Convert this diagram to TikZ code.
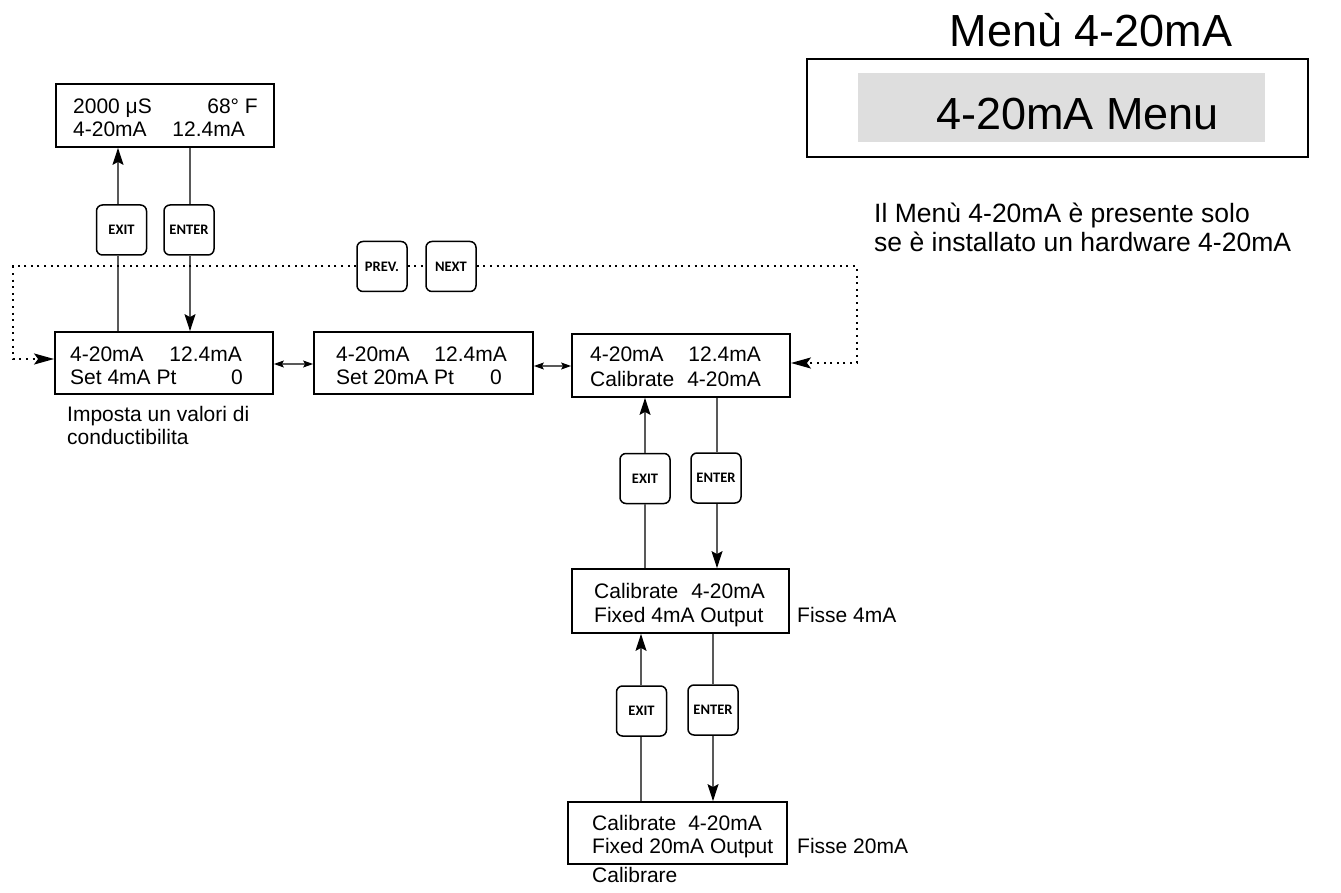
\documentclass[tikz,border=0pt]{standalone}
\usepackage{fontspec}
\setmainfont{Liberation Sans}
\newfontfamily\keyfont{Carlito}
\usetikzlibrary{arrows.meta}

\tikzset{
  screen/.style={draw=black, line width=1.8pt, rectangle, inner sep=0pt},
  key/.style={draw=black, line width=1.5pt, rectangle, rounded corners=6pt,
    minimum width=50pt, minimum height=50pt, inner sep=0pt,
    font=\keyfont\bfseries\fontsize{14.5}{15}\selectfont},
  txt/.style={inner sep=0pt, font=\fontsize{21}{24}\selectfont},
  bigtxt/.style={inner sep=0pt, font=\fontsize{26.5}{30}\selectfont},
  wire/.style={draw=black!65, line width=1.1pt},
  tip/.style={-{Stealth[length=17pt,width=11pt,inset=3pt,color=black]}},
  both/.style={{Stealth[length=10pt,width=7pt,inset=2pt,color=black]}-{Stealth[length=10pt,width=7pt,inset=2pt,color=black]}},
  dots/.style={draw=black, line width=2pt, dash pattern=on 2pt off 4.6pt},
  dottip/.style={-{Stealth[length=20pt,width=11pt,inset=4pt]}},
}

\begin{document}
\begin{tikzpicture}[x=1pt,y=-1pt]
\useasboundingbox (0,0) rectangle (1341,893);

% ---------------- title block ----------------
\node[txt, anchor=base, font=\fontsize{45}{50}\selectfont] (title) at (1091,47) {Menù 4-20mA};
\node[screen, minimum width=501pt, minimum height=98pt] (frame) at (1057.5,108) {};
\node[fill=black!13, draw=none, minimum width=407pt, minimum height=69pt, inner sep=0pt] (shade) at (1061.5,107.5) {};
\node[txt, anchor=base, font=\fontsize{45}{50}\selectfont] (menu) at (1077.5,130) {4-20mA Menu};
\node[bigtxt, anchor=base west] (note1) at (874,223) {Il Menù 4-20mA è presente solo};
\node[bigtxt, anchor=base west] (note2) at (874,252) {se è installato un hardware 4-20mA};

% ---------------- display screens ----------------
\node[screen, minimum width=218pt, minimum height=63pt] (top) at (165,115.5) {};
\node[txt, anchor=base west] (top1l) at (73,114) {2000 μS};
\node[txt, anchor=base east] (top1r) at (258,114) {68° F};
\node[txt, anchor=base west] (top2l) at (73,137) {4-20mA};
\node[txt, anchor=base east] (top2r) at (245,137) {12.4mA};

\node[screen, minimum width=218pt, minimum height=62pt] (b1) at (164,363) {};
\node[txt, anchor=base west] (b11l) at (70,361) {4-20mA};
\node[txt, anchor=base east] (b11r) at (242,361) {12.4mA};
\node[txt, anchor=base west] (b12l) at (70,384) {Set 4mA Pt};
\node[txt, anchor=base east] (b12r) at (243,384) {0};

\node[screen, minimum width=219pt, minimum height=62pt] (b2) at (423.5,363) {};
\node[txt, anchor=base west] (b21l) at (336,361) {4-20mA};
\node[txt, anchor=base east] (b21r) at (507,361) {12.4mA};
\node[txt, anchor=base west] (b22l) at (336,384) {Set 20mA Pt};
\node[txt, anchor=base east] (b22r) at (502,384) {0};

\node[screen, minimum width=218pt, minimum height=63pt] (b3) at (681,365.5) {};
\node[txt, anchor=base west] (b31l) at (590,361) {4-20mA};
\node[txt, anchor=base east] (b31r) at (761,361) {12.4mA};
\node[txt, anchor=base west] (b32l) at (590,386) {Calibrate};
\node[txt, anchor=base east] (b32r) at (761,386) {4-20mA};

\node[screen, minimum width=217pt, minimum height=64pt] (b4) at (680.5,601) {};
\node[txt, anchor=base west] (b41l) at (594,598) {Calibrate};
\node[txt, anchor=base east] (b41r) at (765,598) {4-20mA};
\node[txt, anchor=base west] (b42) at (594,622) {Fixed 4mA Output};

\node[screen, minimum width=219pt, minimum height=62pt] (b5) at (677.5,833) {};
\node[txt, anchor=base west] (b51l) at (592,830) {Calibrate};
\node[txt, anchor=base east] (b51r) at (762,830) {4-20mA};
\node[txt, anchor=base west] (b52) at (592,853) {Fixed 20mA Output};

% ---------------- side labels ----------------
\node[txt, anchor=base west] (lab1a) at (67,421) {Imposta un valori di};
\node[txt, anchor=base west] (lab1b) at (67,444) {conductibilita};
\node[txt, anchor=base west] (lab4) at (797,622) {Fisse 4mA};
\node[txt, anchor=base west] (lab5) at (797,853) {Fisse 20mA};
\node[txt, anchor=base west] (lab6) at (592,882) {Calibrare};

% ---------------- keys ----------------
\node[key] (exit1) at (121.5,230) {EXIT};
\node[key] (enter1) at (189,230) {ENTER};
\node[key] (prev) at (382,266.5) {PREV.};
\node[key] (next) at (451,266.5) {NEXT};
\node[key] (exit2) at (645,478.5) {EXIT};
\node[key] (enter2) at (716,478) {ENTER};
\node[key] (exit3) at (641.5,711) {EXIT};
\node[key] (enter3) at (713,710) {ENTER};

% connector columns
\coordinate (cx1) at (118,0);
\coordinate (cn1) at (190,0);
\coordinate (cx2) at (645,0);
\coordinate (cn2) at (717,0);
\coordinate (cx3) at (641,0);
\coordinate (cn3) at (713,0);

% ---------------- connectors ----------------
\draw[wire] (b1.north -| cx1) -- (exit1.south -| cx1);
\draw[wire, tip] (exit1.north -| cx1) -- (top.south -| cx1);
\draw[wire] (top.south -| cn1) -- (enter1.north -| cn1);
\draw[wire, tip] (enter1.south -| cn1) -- (b1.north -| cn1);

\draw[wire] (b4.north -| cx2) -- (exit2.south -| cx2);
\draw[wire, tip] (exit2.north -| cx2) -- (b3.south -| cx2);
\draw[wire] (b3.south -| cn2) -- (enter2.north -| cn2);
\draw[wire, tip] (enter2.south -| cn2) -- (b4.north -| cn2);

\draw[wire] (b5.north -| cx3) -- (exit3.south -| cx3);
\draw[wire, tip] (exit3.north -| cx3) -- (b4.south -| cx3);
\draw[wire] (b4.south -| cn3) -- (enter3.north -| cn3);
\draw[wire, tip] (enter3.south -| cn3) -- (b5.north -| cn3);

\coordinate (r12) at (0,364);
\coordinate (r23) at (0,366);
\draw[wire, both] (b1.east |- r12) -- (b2.west |- r12);
\draw[wire, both] (b2.east |- r23) -- (b3.west |- r23);

% PREV / NEXT scrolling loop
\coordinate (dl) at (13,359);
\coordinate (dr) at (857,363);
\draw[dots, dottip] (prev.west) -| (dl) -- (dl -| b1.west);
\draw[dots] (prev.east) -- (next.west);
\draw[dots, dottip] (next.east) -| (dr) -- (dr -| b3.east);
\end{tikzpicture}
\end{document}
